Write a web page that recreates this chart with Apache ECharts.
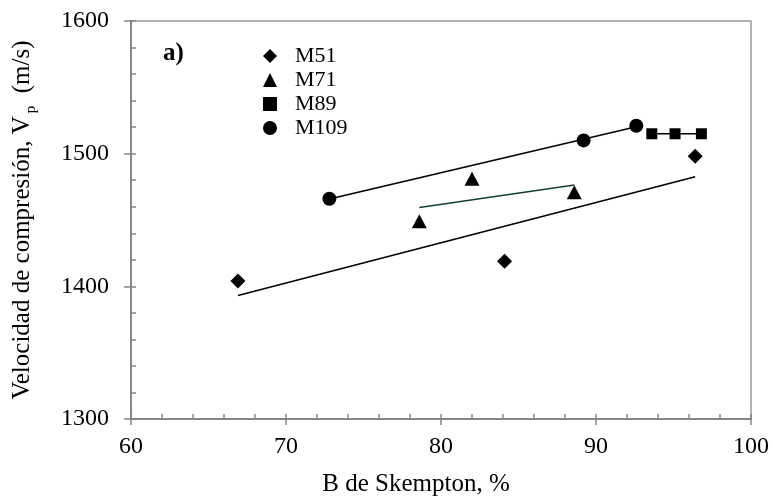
<!DOCTYPE html>
<html>
<head>
<meta charset="utf-8">
<script src="https://cdn.jsdelivr.net/npm/echarts@6/dist/echarts.min.js"></script>
<style>html,body{margin:0;padding:0;background:#fff}#c{width:773px;height:502px}</style>
</head>
<body>
<div id="c"></div>
<script>
// ---- data ----
const seriesNames = ['M51', 'M71', 'M89', 'M109'];
const m51X = [66.9, 84.1, 96.4];
const m51Y = [1404, 1419, 1498];
const m71X = [78.6, 82.0, 88.6];
const m71Y = [1449, 1481, 1471];
const m89X = [93.6, 95.1, 96.8];
const m89Y = [1515, 1515, 1515];
const m109X = [72.8, 89.2, 92.6];
const m109Y = [1466, 1510, 1521];
const xTicks = [60, 70, 80, 90, 100];
const yTicks = [1300, 1400, 1500, 1600];

const FONT = '"Liberation Serif", "Times New Roman", serif';
const AXIS_GREY = '#878787';

function pairs(xs, ys) { return xs.map((x, i) => [x, ys[i]]); }
function trend(xs, ys) {
  const n = xs.length;
  const mx = xs.reduce((a, b) => a + b, 0) / n;
  const my = ys.reduce((a, b) => a + b, 0) / n;
  let sxy = 0, sxx = 0;
  for (let i = 0; i < n; i++) { sxy += (xs[i] - mx) * (ys[i] - my); sxx += (xs[i] - mx) ** 2; }
  const b = sxx ? sxy / sxx : 0, a = my - b * mx;
  const x0 = Math.min(...xs), x1 = Math.max(...xs);
  return [[x0, a + b * x0], [x1, a + b * x1]];
}

const groups = [
  { name: seriesNames[0], xs: m51X, ys: m51Y, symbol: 'diamond', size: [15, 15], lineColor: '#000' },
  { name: seriesNames[1], xs: m71X, ys: m71Y, symbol: 'triangle', size: [15, 14], lineColor: '#163d2b' },
  { name: seriesNames[2], xs: m89X, ys: m89Y, symbol: 'rect', size: [11, 11], lineColor: '#000' },
  { name: seriesNames[3], xs: m109X, ys: m109Y, symbol: 'circle', size: [14, 14], lineColor: '#000' }
];

const series = [];
groups.forEach(g => {
  series.push({
    type: 'line', name: g.name + ' tendencia', data: trend(g.xs, g.ys),
    showSymbol: false, symbol: 'none', silent: true, z: 2,
    lineStyle: { color: g.lineColor, width: 1.6 }, xAxisIndex: 0, yAxisIndex: 0
  });
});
groups.forEach(g => {
  series.push({
    type: 'scatter', name: g.name, data: pairs(g.xs, g.ys),
    symbol: g.symbol, symbolSize: g.size, z: 5,
    itemStyle: { color: '#000', opacity: 1 }, xAxisIndex: 0, yAxisIndex: 0
  });
});

const plain = v => String(v);

const chart = echarts.init(document.getElementById('c'), null, { renderer: 'canvas' });
chart.setOption({
  animation: false,
  backgroundColor: '#fff',
  grid: { left: 131, right: 22, top: 21, bottom: 80, show: true, borderColor: '#9a9a9a', borderWidth: 1.5, containLabel: false },
  legend: {
    orient: 'vertical', left: 258, top: 40, itemWidth: 14, itemHeight: 14, itemGap: 2,
    data: seriesNames, selectedMode: false,
    textStyle: { fontFamily: FONT, fontSize: 22, color: '#000', padding: [0, 0, 0, 13] }
  },
  graphic: [{
    type: 'text', left: 163, top: 41,
    style: { text: 'a)', font: 'bold 25px ' + FONT, fill: '#000' }
  }],
  xAxis: [{
    type: 'value', min: xTicks[0], max: xTicks[xTicks.length - 1], interval: 10, position: 'bottom',
    name: 'B de Skempton, %', nameLocation: 'middle', nameGap: 53,
    nameTextStyle: { fontFamily: FONT, fontSize: 25, color: '#000', padding: [0, 50, 0, 0] },
    axisLine: { show: true, lineStyle: { color: AXIS_GREY, width: 2 } },
    axisTick: { show: true, inside: false, length: 6, lineStyle: { color: AXIS_GREY, width: 1.5 } },
    axisLabel: { fontFamily: FONT, fontSize: 24, color: '#000', margin: 16, formatter: plain },
    splitLine: { show: false }
  }, {
    type: 'value', min: xTicks[0], max: xTicks[xTicks.length - 1], interval: 10, position: 'bottom',
    axisLine: { show: false },
    axisTick: { show: true, inside: true, length: 5, lineStyle: { color: AXIS_GREY, width: 1.5 } },
    minorTick: { show: true, splitNumber: 5, length: 5, lineStyle: { color: AXIS_GREY, width: 1.5 } },
    axisLabel: { show: false }, splitLine: { show: false }
  }],
  yAxis: [{
    type: 'value', min: yTicks[0], max: yTicks[yTicks.length - 1], interval: 100, position: 'left',
    name: '{t|Velocidad de compresión, V}{s|p}{t|  (m/s)}', nameLocation: 'middle', nameGap: 92, nameRotate: 90,
    nameTextStyle: {
      fontFamily: FONT, fontSize: 25, color: '#000',
      rich: {
        t: { fontFamily: FONT, fontSize: 25, color: '#000', lineHeight: 34 },
        s: { fontFamily: FONT, fontSize: 15, color: '#000', lineHeight: 34, verticalAlign: 'bottom', padding: [16, 0, 0, 3] }
      }
    },
    axisLine: { show: true, lineStyle: { color: AXIS_GREY, width: 2 } },
    axisTick: { show: true, inside: false, length: 7, lineStyle: { color: AXIS_GREY, width: 1.5 } },
    axisLabel: { fontFamily: FONT, fontSize: 24, color: '#000', margin: 22, formatter: plain },
    splitLine: { show: false }
  }, {
    type: 'value', min: yTicks[0], max: yTicks[yTicks.length - 1], interval: 100, position: 'left',
    axisLine: { show: false },
    axisTick: { show: true, inside: true, length: 5, lineStyle: { color: AXIS_GREY, width: 1.5 } },
    minorTick: { show: true, splitNumber: 5, length: 5, lineStyle: { color: AXIS_GREY, width: 1.5 } },
    axisLabel: { show: false }, splitLine: { show: false }
  }],
  series: series
});
</script>
</body>
</html>
